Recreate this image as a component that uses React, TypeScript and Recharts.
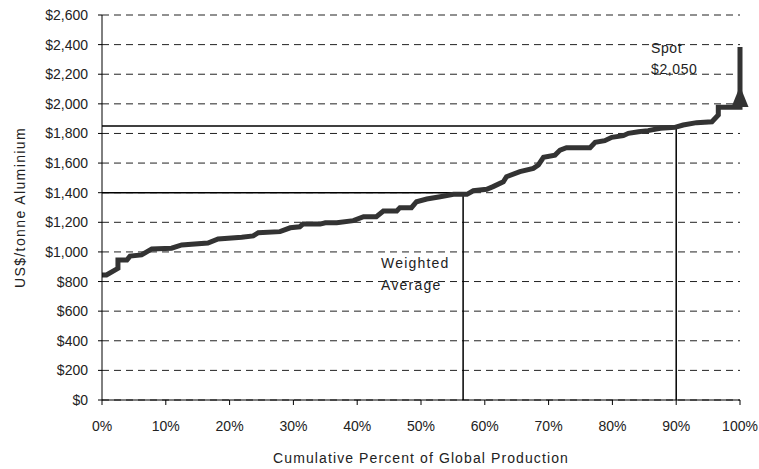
import React from 'react';
import {
  ComposedChart,
  Line,
  XAxis,
  YAxis,
  CartesianGrid,
  ReferenceLine,
  ReferenceDot,
  Label,
} from 'recharts';

// cumulative production share (%) and cash cost (US$/t)
const cumulativePct = [
  0, 0.7, 2.5, 2.5, 3.9, 4.4, 6.2, 7.8, 10.9, 12.5, 16.6, 18.2, 21.9, 23.7, 24.5, 27.9,
  29.5, 31.0, 31.5, 34.2, 35.0, 36.8, 39.4, 41.0, 43.0, 44.1, 46.2, 46.7, 48.5, 49.3, 50.9,
  53.0, 55.1, 57.2, 58.2, 60.3, 61.3, 62.9, 63.4, 65.5, 67.6, 68.4, 69.2, 71.0, 71.8, 72.8,
  76.5, 77.3, 78.8, 79.9, 81.7, 82.5, 84.1, 85.6, 87.5, 89.8, 91.1, 93.2, 95.6, 96.6, 96.6,
  98.4, 100, 100,
];
const costPerTonne = [
  844, 844, 889, 945, 945, 972, 980, 1020, 1025, 1047, 1060, 1087, 1099, 1108, 1130, 1137,
  1163, 1170, 1188, 1188, 1197, 1197, 1211, 1238, 1238, 1276, 1276, 1299, 1299, 1339, 1357,
  1373, 1389, 1389, 1413, 1423, 1441, 1474, 1508, 1542, 1564, 1587, 1639, 1654, 1688, 1704,
  1704, 1740, 1751, 1774, 1785, 1801, 1812, 1819, 1835, 1841, 1857, 1873, 1879, 1925, 1977,
  1977, 1977, 2384,
];

const xTicks = [0, 10, 20, 30, 40, 50, 60, 70, 80, 90, 100];
const yTicks = [0, 200, 400, 600, 800, 1000, 1200, 1400, 1600, 1800, 2000, 2200, 2400, 2600];

// annotations
const weightedAvgPct = 56.6;
const weightedAvgCost = 1400;
const ninetyPct = 90;
const ninetyCost = 1850;
const spotPct = 100;
const spotPrice = 2050;
const spotLabel = ['Spot', '$2,050'];
const weightedLabel = ['Weighted', 'Average'];

const data = cumulativePct.map((pct, i) => ({ pct, cost: costPerTonne[i] }));

const FONT = '"Liberation Sans", Arial, sans-serif';
const textStyle = { fontFamily: FONT, fontSize: 14, fill: '#222' };

const fmtDollar = (v: number) => '$' + v.toLocaleString('en-US');

const SpotMarker = (props: any) => {
  const { cx, cy } = props;
  return (
    <g>
      <polygon
        points={`${cx},${cy - 10.5} ${cx - 8.5},${cy + 10.5} ${cx + 8.5},${cy + 10.5}`}
        fill="#333"
      />
      <text x={cx - 89} y={cy - 43} style={{ ...textStyle, letterSpacing: 0.6 }}>{spotLabel[0]}</text>
      <text x={cx - 89} y={cy - 22} style={{ ...textStyle, letterSpacing: 0.6 }}>{spotLabel[1]}</text>
    </g>
  );
};

const WeightedText = (props: any) => {
  const { cx, cy } = props;
  return (
    <g>
      <text x={cx - 82} y={cy + 75} style={{ ...textStyle, letterSpacing: 1.2 }}>{weightedLabel[0]}</text>
      <text x={cx - 82} y={cy + 97.5} style={{ ...textStyle, letterSpacing: 1.2 }}>{weightedLabel[1]}</text>
    </g>
  );
};

const YTitle = (props: any) => {
  const { viewBox } = props;
  const x = viewBox.x + 20;
  const y = viewBox.y + viewBox.height / 2;
  return (
    <text
      x={x}
      y={y}
      transform={`rotate(-90 ${x} ${y})`}
      textAnchor="middle"
      dominantBaseline="central"
      style={{ ...textStyle, letterSpacing: 1.4 }}
    >
      US$/tonne Aluminium
    </text>
  );
};

export default function App() {
  return (
    <div style={{ position: 'absolute', left: 0, top: 0, width: 759, height: 469, background: '#fff' }}>
      <ComposedChart width={759} height={469} data={data} margin={{ top: 15, right: 19, bottom: 0, left: 0 }}>
        <CartesianGrid vertical={false} stroke="#222" strokeDasharray="7 5" />
        <XAxis
          dataKey="pct"
          type="number"
          domain={[0, 100]}
          ticks={xTicks}
          tickFormatter={(v) => `${v}%`}
          height={69}
          stroke="#000"
          tickSize={5}
          tickMargin={16}
          tick={{ ...textStyle }}
          interval={0}
        >
          <Label
            value="Cumulative Percent of Global Production"
            position="insideBottom"
            offset={6}
            style={{ ...textStyle, letterSpacing: 1.1 }}
          />
        </XAxis>
        <YAxis
          type="number"
          domain={[0, 2600]}
          ticks={yTicks}
          tickFormatter={fmtDollar}
          width={102}
          stroke="#000"
          tickSize={4}
          tickMargin={10}
          tick={{ ...textStyle }}
          interval={0}
        >
          <Label content={YTitle} />
        </YAxis>
        <ReferenceLine
          segment={[{ x: 0, y: weightedAvgCost }, { x: weightedAvgPct, y: weightedAvgCost }]}
          stroke="#000"
          strokeWidth={1.5}
        />
        <ReferenceLine
          segment={[{ x: weightedAvgPct, y: 0 }, { x: weightedAvgPct, y: weightedAvgCost }]}
          stroke="#000"
          strokeWidth={1.5}
        />
        <ReferenceLine
          segment={[{ x: 0, y: ninetyCost }, { x: ninetyPct, y: ninetyCost }]}
          stroke="#000"
          strokeWidth={1.5}
        />
        <ReferenceLine
          segment={[{ x: ninetyPct, y: 0 }, { x: ninetyPct, y: ninetyCost }]}
          stroke="#000"
          strokeWidth={1.5}
        />
        <Line
          dataKey="cost"
          type="linear"
          stroke="#333"
          strokeWidth={5}
          dot={false}
          activeDot={false}
          isAnimationActive={false}
        />
        <ReferenceDot x={spotPct} y={spotPrice} r={0} shape={SpotMarker} />
        <ReferenceDot x={weightedAvgPct} y={weightedAvgCost} r={0} shape={WeightedText} />
      </ComposedChart>
    </div>
  );
}
